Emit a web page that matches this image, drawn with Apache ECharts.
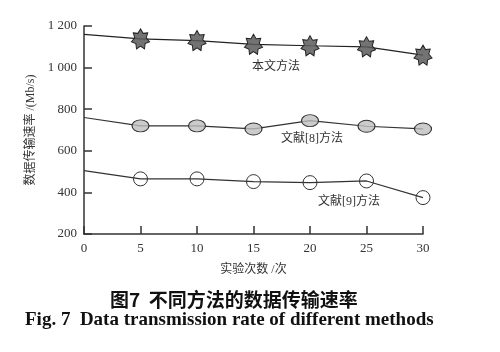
<!DOCTYPE html>
<html><head><meta charset="utf-8">
<script src="https://cdn.jsdelivr.net/npm/echarts@6/dist/echarts.min.js"></script>
<style>html,body{margin:0;padding:0;background:#fff}#c{width:500px;height:352px}</style>
</head><body><div id="c"></div>
<script>
const xValues = [0, 5, 10, 15, 20, 25, 30];
const oursRate = [1160, 1138, 1130, 1112, 1105, 1100, 1060];
const ref8Rate = [760, 720, 720, 705, 745, 718, 705];
const ref9Rate = [505, 465, 465, 452, 447, 455, 375];
const seriesNames = ['本文方法', '文献[8]方法', '文献[9]方法'];
const yTicks = [200, 400, 600, 800, 1000, 1200];
const xTicks = [0, 5, 10, 15, 20, 25, 30];

const serif = "'Liberation Serif','Noto Sans CJK SC'";

function starPath(n, r1, r2) {
  let d = '';
  for (let i = 0; i < 2 * n; i++) {
    const r = i % 2 === 0 ? r1 : r2;
    const a = -Math.PI / 2 + i * Math.PI / n;
    const x = 50 + r * Math.cos(a), y = 50 + r * Math.sin(a);
    d += (i === 0 ? 'M' : 'L') + x.toFixed(2) + ' ' + y.toFixed(2);
  }
  return 'path://' + d + 'Z';
}
const star = starPath(7, 50, 32);

function mk(vals, sym) {
  return xValues.map((x, i) => i === 0 ? { value: [x, vals[i]], symbol: 'none' } : { value: [x, vals[i]], symbol: sym });
}

const chart = echarts.init(document.getElementById('c'));
chart.setOption({
  animation: false,
  backgroundColor: '#fff',
  grid: { left: 84, right: 77, top: 26, bottom: 118 },
  xAxis: {
    type: 'value', min: 0, max: 30, interval: 5,
    name: '实验次数 /次', nameLocation: 'middle', nameGap: 30,
    nameTextStyle: { fontFamily: serif, fontSize: 12, color: '#333' },
    axisLine: { lineStyle: { color: '#333', width: 1.5 } },
    axisTick: { inside: true, length: 8, lineStyle: { color: '#333', width: 1.5 } },
    axisLabel: { fontFamily: serif, fontSize: 13, color: '#333', margin: 8 },
    splitLine: { show: false }
  },
  yAxis: {
    type: 'value', min: 200, max: 1200, interval: 200,
    name: '数据传输速率 /(Mb/s)', nameLocation: 'middle', nameGap: 42,
    nameTextStyle: { fontFamily: serif, fontSize: 12, color: '#333' },
    axisLine: { show: true, lineStyle: { color: '#333', width: 1.5 } },
    axisTick: { show: true, inside: true, length: 8, lineStyle: { color: '#333', width: 1.5 } },
    axisLabel: { fontFamily: serif, fontSize: 13, color: '#333', margin: 7,
      formatter: v => v >= 1000 ? Math.floor(v / 1000) + ' ' + String(v % 1000).padStart(3, '0') : String(v) },
    splitLine: { show: false }
  },
  series: [
    { name: seriesNames[0], type: 'line', data: mk(oursRate, star), symbolSize: [18, 20],
      lineStyle: { color: '#222', width: 1.2 },
      itemStyle: { color: 'rgba(90,90,90,0.85)', borderColor: '#222', borderWidth: 1 }, z: 3 },
    { name: seriesNames[1], type: 'line', data: mk(ref8Rate, 'circle'), symbolSize: [17, 12],
      lineStyle: { color: '#333', width: 1.2 },
      itemStyle: { color: 'rgba(190,190,190,0.8)', borderColor: '#333', borderWidth: 1 } },
    { name: seriesNames[2], type: 'line', data: mk(ref9Rate, 'circle'), symbolSize: [14, 14],
      lineStyle: { color: '#333', width: 1.2 },
      itemStyle: { color: 'rgba(255,255,255,0)', borderColor: '#333', borderWidth: 1 } }
  ],
  graphic: [
    { type: 'text', left: 252, top: 61, style: { text: seriesNames[0], font: "12px " + serif, fill: '#333' } },
    { type: 'text', left: 281, top: 133, style: { text: seriesNames[1], font: "12px " + serif, fill: '#333' } },
    { type: 'text', left: 318, top: 196, style: { text: seriesNames[2], font: "12px " + serif, fill: '#333' } },
    { type: 'text', left: 110, top: 290, style: { text: '图7  不同方法的数据传输速率', font: "bold 19px 'Noto Sans CJK SC'", fill: '#111' } },
    { type: 'text', left: 25, top: 311, style: { text: 'Fig. 7  Data transmission rate of different methods', font: "bold 19px 'Liberation Serif'", fill: '#111' } }
  ]
});
</script></body></html>
